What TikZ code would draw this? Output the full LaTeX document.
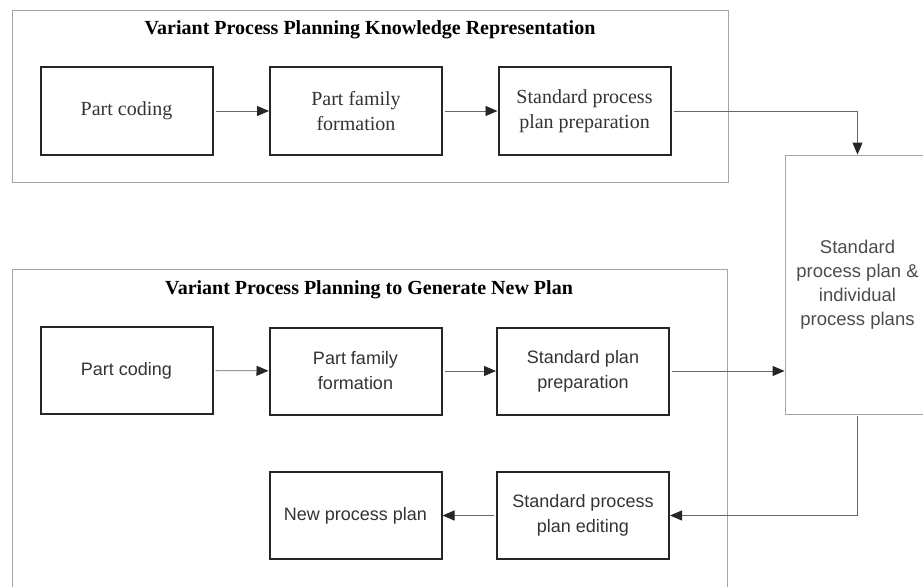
\documentclass[tikz,border=0pt]{standalone}
\usepackage{fontspec}
\setmainfont{Liberation Serif}
\newfontfamily\sansf{Liberation Sans}
\usetikzlibrary{arrows.meta}
\begin{document}
\begin{tikzpicture}[x=1pt,y=-1pt,
  stage/.style={draw=black!85, line width=2pt, minimum width=172pt,
    minimum height=87pt, inner sep=0pt, align=center, text=black!80,
    font=\fontsize{20}{25}\selectfont},
  stagesans/.style={stage, font=\sansf\fontsize{18}{25}\selectfont},
  frame/.style={draw=black!35, line width=0.9pt},
  heading/.style={font=\bfseries\fontsize{20}{23}\selectfont, text=black},
  store/.style={draw=black!35, line width=0.9pt, minimum width=145pt,
    minimum height=259pt, inner sep=0pt, align=center, text=black!70,
    font=\sansf\fontsize{18.5}{24}\selectfont},
  link/.style={draw=black!60, line width=0.9pt, shorten <=2pt,
    -{Triangle[length=12pt,width=10pt,color=black!85]}}
]
\useasboundingbox (0,0) rectangle (923,586);

% group frames
\draw[frame] (12,10) rectangle (728,182);
\draw[frame] (12,269) rectangle (727,600);

% knowledge representation stage
\node[heading] (t1) at (370,30) {Variant Process Planning Knowledge Representation};
\node[stage] (a1) at (126.5,111) {Part coding};
\node[stage] (a2) at (356,111) {Part family\\formation};
\node[stage] (a3) at (584.5,111) {Standard process\\plan preparation};

% new plan generation stage
\node[heading] (t2) at (369,290) {Variant Process Planning to Generate New Plan};
\node[stagesans] (b1) at (126.5,370.5) {Part coding};
\node[stagesans] (b2) at (355.5,371) {Part family\\formation};
\node[stagesans] (b3) at (583,371) {Standard plan\\preparation};
\node[stagesans] (b4) at (355.5,515.5) {New process plan};
\node[stagesans] (b5) at (583,515.5) {Standard process\\plan editing};

% plan store
\node[store] (db) at (857.5,284.5) {Standard\\process plan \&\\individual\\process plans};

% connectors
\draw[link] (a1) -- (a2);
\draw[link] (a2) -- (a3);
\draw[link] (a3.east) -| (db.north);
\draw[link] (b1) -- (b2);
\draw[link] (b2) -- (b3);
\draw[link] (b3.east) -- (b3.east -| db.west);
\draw[link] (db.south) |- (b5.east);
\draw[link] (b5) -- (b4);
\end{tikzpicture}
\end{document}
